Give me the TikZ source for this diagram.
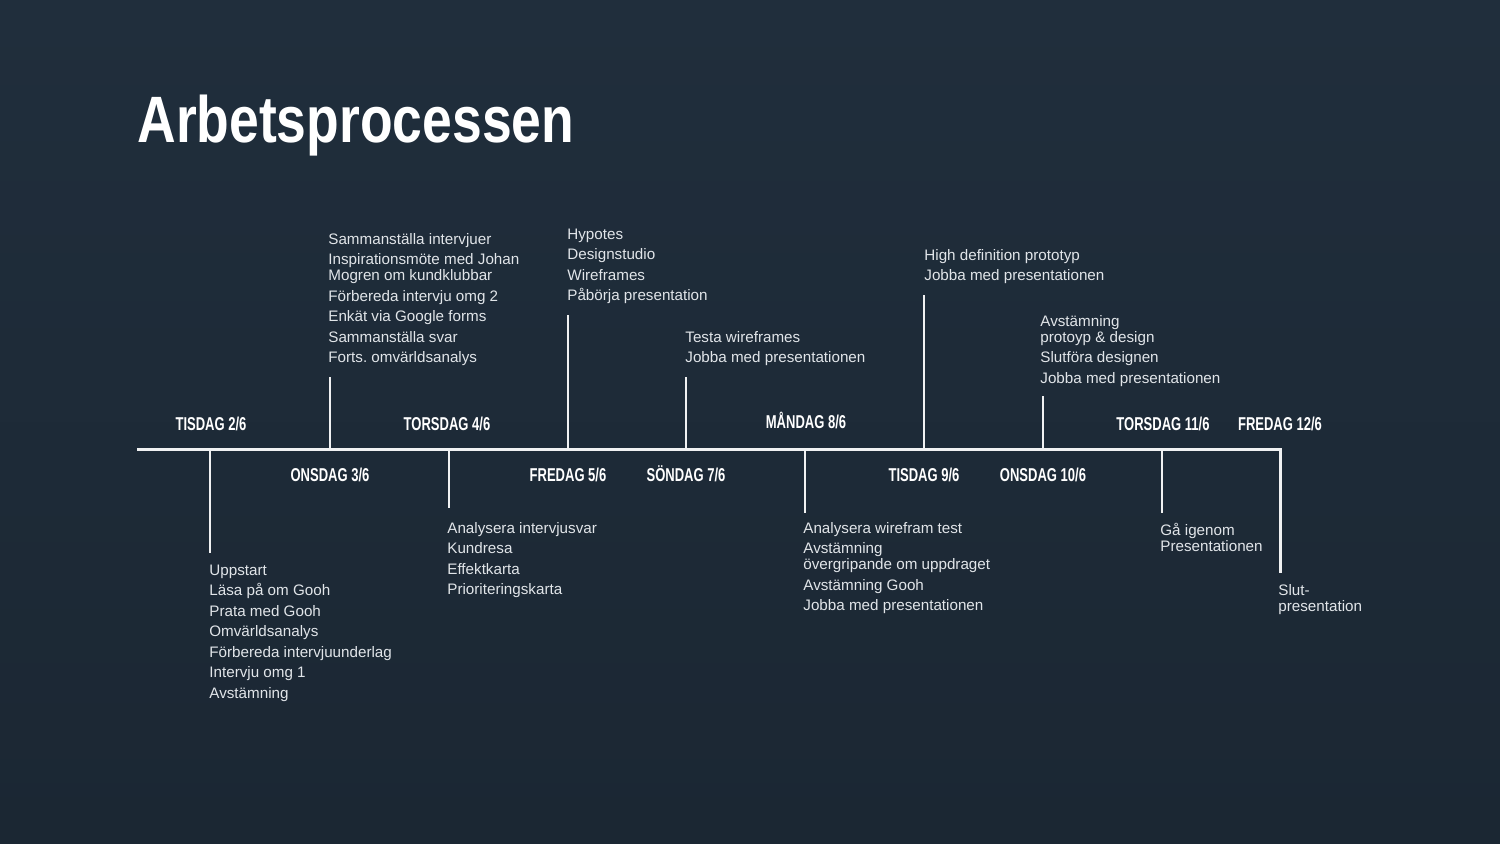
\documentclass[tikz,border=0pt]{standalone}
\usepackage{fontspec}
\setmainfont{Liberation Sans}
\newfontfamily\titlefont[FakeStretch=0.815]{Liberation Sans}
\newfontfamily\datefont[FakeStretch=0.70]{Liberation Sans}
\definecolor{bgtop}{RGB}{32,46,60}
\definecolor{bgbot}{RGB}{27,39,51}
\definecolor{txtcol}{RGB}{225,229,233}
\definecolor{linecol}{RGB}{240,241,242}
\newcommand\ig{\\[2.25pt]}
\setlength{\lineskiplimit}{-100pt}
\frenchspacing
\tikzset{
  body/.style={anchor=north west, inner sep=0pt, align=left, text=txtcol,
    font=\fontsize{7.6}{8}\selectfont},
  datelbl/.style={anchor=base, inner sep=0pt, text=white,
    font=\datefont\bfseries\fontsize{9.3}{10}\selectfont},
  axis/.style={draw=linecol, line width=1.5pt},
  tick/.style={draw=linecol, line width=1pt},
}
\begin{document}
\begin{tikzpicture}[x=0.5pt,y=-0.5pt]
\shade[top color=bgtop, bottom color=bgbot] (0,0) rectangle (1500,843);
\useasboundingbox (0,0) rectangle (1500,843);

% title
\node[anchor=base west, inner sep=0pt, text=white,
  font=\titlefont\bfseries\fontsize{32.8}{36}\selectfont] (title) at (137,142) {Arbetsprocessen};

% timeline
\coordinate (L) at (137,449);
\coordinate (R) at (1280,449);
\coordinate (Rend) at (1280,573);
\draw[axis] (L) -- (R) -- (Rend);

% tick anchors on the axis
\foreach \n/\x in {a/210,b/330,c/449,d/568,e/686,f/805,g/924,h/1043,i/1162}
  \coordinate (\n) at (\x,449);
% tick ends
\coordinate (a2) at (210,553);
\coordinate (b2) at (330,377);
\coordinate (c2) at (449,508);
\coordinate (d2) at (568,315);
\coordinate (e2) at (686,377);
\coordinate (f2) at (805,513);
\coordinate (g2) at (924,295);
\coordinate (h2) at (1043,396);
\coordinate (i2) at (1162,513);
\foreach \n in {a,b,c,d,e,f,g,h,i}
  \draw[tick] (\n) -- (\n2);

% date labels
\node[datelbl] (d1) at (211,430) {TISDAG 2/6};
\node[datelbl] (d2) at (330,481) {ONSDAG 3/6};
\node[datelbl] (d3) at (447,430) {TORSDAG 4/6};
\node[datelbl] (d4) at (568,481) {FREDAG 5/6};
\node[datelbl] (d5) at (686,481) {SÖNDAG 7/6};
\node[datelbl] (d6) at (806,428) {MÅNDAG 8/6};
\node[datelbl] (d7) at (924,481) {TISDAG 9/6};
\node[datelbl] (d8) at (1043,481) {ONSDAG 10/6};
\node[datelbl] (d9) at (1163,430) {TORSDAG 11/6};
\node[datelbl] (d10) at (1280,430) {FREDAG 12/6};

% text blocks
\node[body] (t1) at (209,563.8) {\strut Uppstart\ig Läsa på om Gooh\ig Prata med Gooh\ig Omvärldsanalys\ig Förbereda intervjuunderlag\ig Intervju omg 1\ig Avstämning};
\node[body] (t2) at (328,232.8) {\strut Sammanställa intervjuer\ig Inspirationsmöte med Johan\\ Mogren om kundklubbar\ig Förbereda intervju omg 2\ig Enkät via Google forms\ig Sammanställa svar\ig Forts. omvärldsanalys};
\node[body] (t3) at (447,521.8) {\strut Analysera intervjusvar\ig Kundresa\ig Effektkarta\ig Prioriteringskarta};
\node[body] (t4) at (567,227.8) {\strut Hypotes\ig Designstudio\ig Wireframes\ig Påbörja presentation};
\node[body] (t5) at (685,330.8) {\strut Testa wireframes\ig Jobba med presentationen};
\node[body] (t6) at (803,521.8) {\strut Analysera wirefram test\ig Avstämning\\ övergripande om uppdraget\ig Avstämning Gooh\ig Jobba med presentationen};
\node[body] (t7) at (924,248.8) {\strut High definition prototyp\ig Jobba med presentationen};
\node[body] (t8) at (1040,314.8) {\strut Avstämning\\ protoyp \& design\ig Slutföra designen\ig Jobba med presentationen};
\node[body] (t9) at (1160,522.8) {\strut Gå igenom\\ Presentationen};
\node[body] (t10) at (1278,583.8) {\strut Slut-\\ presentation};
\end{tikzpicture}
\end{document}
